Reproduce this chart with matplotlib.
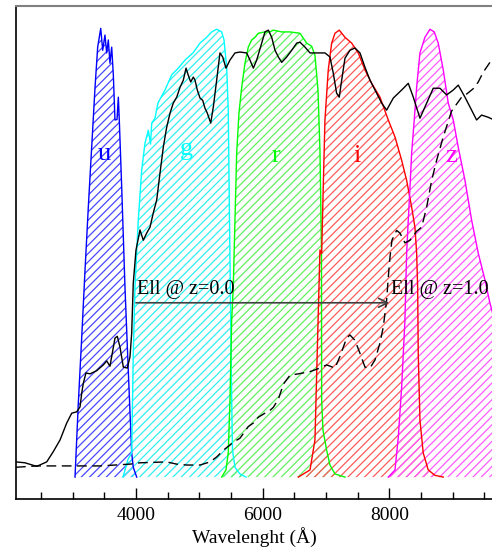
import matplotlib
matplotlib.use("Agg")
import matplotlib.pyplot as plt
import numpy as np

plt.rcParams["font.family"] = ["Liberation Serif", "DejaVu Serif"]
plt.rcParams["hatch.linewidth"] = 0.9

# Filter transmission curves (wavelength in Angstrom, normalised transmission)
u_wave = [3037, 3089, 3143, 3195, 3247, 3300, 3353, 3395, 3443, 3474, 3510, 3537,
          3563, 3589, 3616, 3642, 3668, 3700, 3721, 3736, 3774, 3826, 3878, 3932,
          3957, 4011]
u_trans = [0.0, 0.165, 0.313, 0.463, 0.604, 0.738, 0.872, 0.962, 1.004, 0.955,
           0.989, 0.949, 0.978, 0.926, 0.962, 0.90, 0.799, 0.80, 0.85, 0.80, 0.649,
           0.425, 0.239, 0.054, 0.022, 0.0]

g_wave = [3795, 3874, 3932, 3957, 3984, 4036, 4090, 4142, 4194, 4230, 4248, 4300,
          4347, 4458, 4564, 4668, 4774, 4900, 5011, 5116, 5195, 5274, 5353, 5390,
          5432, 5457, 5473, 5492, 5511, 5524, 5563, 5642, 5737]
g_trans = [0.0, 0.04, 0.054, 0.277, 0.425, 0.575, 0.687, 0.747, 0.776, 0.745,
           0.792, 0.803, 0.837, 0.866, 0.90, 0.915, 0.933, 0.949, 0.971, 0.984,
           0.996, 1.002, 0.996, 0.978, 0.917, 0.821, 0.62, 0.396, 0.172, 0.06,
           0.022, 0.007, 0.0]

r_wave = [5353, 5421, 5457, 5484, 5511, 5536, 5563, 5590, 5626, 5669, 5721, 5773,
          5827, 5879, 5931, 6037, 6116, 6168, 6301, 6432, 6590, 6695, 6774, 6826,
          6874, 6905, 6929, 6932, 6953, 7011, 7063, 7142, 7300]
r_trans = [0.0, 0.016, 0.054, 0.172, 0.351, 0.425, 0.575, 0.725, 0.814, 0.872,
           0.926, 0.962, 0.978, 0.984, 0.993, 0.996, 0.996, 1.0, 0.996, 0.996,
           0.993, 0.971, 0.964, 0.944, 0.866, 0.732, 0.508, 0.172, 0.105, 0.06,
           0.027, 0.007, 0.0]

i_wave = [6563, 6748, 6826, 6863, 6905, 6932, 6957, 6984, 7036, 7090, 7142, 7210,
          7300, 7406, 7510, 7616, 7722, 7853, 7984, 8090, 8195, 8274, 8353, 8405,
          8432, 8448, 8457, 8484, 8536, 8615, 8721, 8852]
i_trans = [0.0, 0.016, 0.083, 0.284, 0.508, 0.5, 0.649, 0.799, 0.911, 0.971,
           0.993, 1.0, 0.984, 0.971, 0.949, 0.911, 0.881, 0.85, 0.799, 0.761,
           0.709, 0.664, 0.604, 0.559, 0.501, 0.425, 0.277, 0.128, 0.054, 0.016,
           0.004, 0.0]

z_wave = [7984, 8090, 8142, 8195, 8247, 8274, 8300, 8327, 8353, 8394, 8432, 8484,
          8563, 8642, 8710, 8773, 8852, 8931, 9010, 9089, 9195, 9300, 9405, 9511,
          9590, 9700, 9800, 9900]
z_trans = [0.0, 0.016, 0.089, 0.201, 0.351, 0.501, 0.575, 0.649, 0.725, 0.799,
           0.872, 0.949, 0.984, 1.002, 0.996, 0.971, 0.911, 0.837, 0.799, 0.738,
           0.664, 0.575, 0.501, 0.441, 0.389, 0.33, 0.28, 0.0]

# Elliptical template at z=0 (solid)
ell0_wave = [2105, 2247, 2432, 2590, 2694, 2800, 2906, 2985, 3064, 3116, 3143,
             3168, 3210, 3274, 3379, 3484, 3537, 3589, 3668, 3705, 3747, 3800,
             3863, 3905, 3932, 3957, 4000, 4063, 4115, 4169, 4221, 4273, 4327,
             4379, 4431, 4485, 4537, 4589, 4643, 4695, 4747, 4790, 4826, 4864,
             4905, 4932, 4968, 5011, 5053, 5090, 5127, 5180, 5221, 5274, 5326,
             5369, 5421, 5484, 5563, 5642, 5748, 5800, 5853, 5906, 5985, 6037,
             6090, 6143, 6195, 6248, 6301, 6380, 6459, 6538, 6590, 6669, 6748,
             6826, 6984, 7063, 7115, 7168, 7210, 7248, 7300, 7379, 7458, 7537,
             7616, 7695, 7800, 7879, 7958, 8063, 8195, 8300, 8379, 8484, 8563,
             8694, 8800, 8905, 9010, 9089, 9195, 9300, 9379, 9458, 9563, 9640]
ell0_flux = [0.034, 0.032, 0.024, 0.034, 0.057, 0.083, 0.121, 0.143, 0.146,
             0.157, 0.188, 0.21, 0.233, 0.231, 0.238, 0.251, 0.26, 0.248, 0.311,
             0.315, 0.291, 0.246, 0.244, 0.269, 0.322, 0.434, 0.508, 0.553, 0.53,
             0.546, 0.559, 0.591, 0.62, 0.68, 0.738, 0.783, 0.814, 0.837, 0.85,
             0.872, 0.888, 0.915, 0.899, 0.884, 0.895, 0.888, 0.866, 0.848, 0.843,
             0.825, 0.814, 0.792, 0.828, 0.888, 0.949, 0.94, 0.915, 0.933, 0.949,
             0.951, 0.949, 0.933, 0.915, 0.933, 0.971, 0.996, 1.0, 0.984, 0.955,
             0.94, 0.928, 0.94, 0.955, 0.971, 0.973, 0.962, 0.949, 0.949, 0.949,
             0.94, 0.904, 0.859, 0.85, 0.888, 0.937, 0.955, 0.96, 0.949, 0.917,
             0.888, 0.859, 0.837, 0.821, 0.848, 0.866, 0.881, 0.85, 0.803, 0.828,
             0.87, 0.87, 0.855, 0.866, 0.877, 0.85, 0.821, 0.799, 0.81, 0.805, 0.8]

# Same template redshifted to z=1 (dashed)
ell1_wave = [2105, 2432, 2958, 3432, 3905, 4063, 4485, 4643, 4801, 5011, 5169,
             5274, 5379, 5537, 5642, 5773, 5853, 5932, 6037, 6090, 6168, 6248,
             6327, 6432, 6563, 6748, 6905, 7011, 7142, 7221, 7326, 7379, 7458,
             7537, 7616, 7695, 7774, 7853, 7905, 7958, 7984, 8011, 8042, 8116,
             8168, 8247, 8327, 8432, 8511, 8590, 8669, 8748, 8852, 8984, 9142,
             9221, 9326, 9405, 9484, 9590, 9640]
ell1_flux = [0.022, 0.025, 0.025, 0.025, 0.029, 0.032, 0.034, 0.029, 0.027,
             0.027, 0.034, 0.045, 0.06, 0.078, 0.087, 0.113, 0.121, 0.134, 0.143,
             0.146, 0.156, 0.174, 0.208, 0.228, 0.231, 0.236, 0.244, 0.251, 0.244,
             0.27, 0.311, 0.318, 0.306, 0.277, 0.246, 0.244, 0.262, 0.3, 0.336,
             0.396, 0.447, 0.492, 0.53, 0.552, 0.546, 0.524, 0.53, 0.55, 0.559,
             0.604, 0.664, 0.709, 0.761, 0.819, 0.85, 0.857, 0.869, 0.884, 0.906,
             0.928, 0.94]

filter_names = ["u", "g", "r", "i", "z"]
filter_waves = [u_wave, g_wave, r_wave, i_wave, z_wave]
filter_trans = [u_trans, g_trans, r_trans, i_trans, z_trans]
line_colors = ["#0000ff", "#00ffff", "#00ff00", "#ff0000", "#ff00ff"]
hatch_colors = ["#4848ff", "#30f0f0", "#60f060", "#ff5a5a", "#ff5aff"]
label_x = [3495, 4800, 6208, 7497, 8981]
label_y = [0.709, 0.72, 0.705, 0.705, 0.705]

arrow_y = 0.39

fig = plt.figure(figsize=(4.92, 5.48), dpi=100)
ax = fig.add_axes([16 / 492, 49 / 548, 476 / 492, 493 / 548])

for name, wv, tr, lc, hc, lx, ly in zip(filter_names, filter_waves, filter_trans,
                                        line_colors, hatch_colors, label_x, label_y):
    ax.fill_between(wv, 0, tr, facecolor="none", edgecolor=hc, hatch="////",
                    linewidth=0, zorder=1)
    ax.plot(wv, tr, color=lc, lw=1.0, zorder=2)
    ax.text(lx, ly, name, color=lc, fontsize=19, ha="center", va="baseline",
            zorder=4)

ax.plot(ell0_wave, ell0_flux, color="black", lw=1.0, zorder=3)
ax.plot(ell1_wave, ell1_flux, color="black", lw=1.0, linestyle=(0, (7, 4)), zorder=3)

# Redshift arrow
ax.annotate("", xy=(8000, arrow_y), xytext=(4000, arrow_y),
            arrowprops=dict(arrowstyle="->", color="#404040", lw=1.2,
                            mutation_scale=16, shrinkA=0, shrinkB=0), zorder=5)
ax.text(4015, arrow_y + 0.008, "Ell @ z=0.0", fontsize=14.5, ha="left",
        va="bottom", zorder=5)
ax.text(8020, arrow_y + 0.008, "Ell @ z=1.0", fontsize=14.5, ha="left",
        va="bottom", zorder=5)

ax.set_xlim(2105, 9622)
ax.set_ylim(-0.049, 1.054)
ax.set_yticks([])
ax.set_xticks([4000, 6000, 8000])
ax.set_xticks(np.arange(2500, 9600, 500), minor=True)
ax.tick_params(axis="x", which="major", direction="in", length=8, width=1,
               labelsize=14, pad=6)
ax.tick_params(axis="x", which="minor", direction="in", length=5, width=1)
ax.set_xlabel("Wavelenght (Å)", fontsize=14, labelpad=2)

ax.spines["right"].set_visible(False)
ax.spines["top"].set_color("#808080")
ax.spines["top"].set_linewidth(1.5)
ax.spines["left"].set_linewidth(1.2)
ax.spines["bottom"].set_linewidth(1.2)

fig.savefig("out.png", dpi=100)
plt.close(fig)
